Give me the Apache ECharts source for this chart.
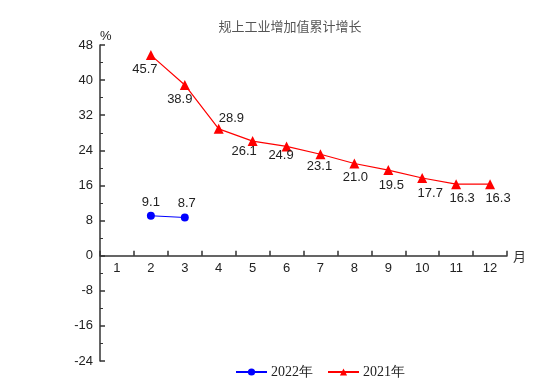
<!DOCTYPE html>
<html>
<head>
<meta charset="utf-8">
<script src="https://cdn.jsdelivr.net/npm/echarts@6/dist/echarts.min.js"></script>
<style>html,body{margin:0;padding:0;background:#fff}#c{width:554px;height:387px}</style>
</head>
<body>
<div id="c"></div>
<script>
var months = ['1','2','3','4','5','6','7','8','9','10','11','12'];
var yTicks = [-24, -16, -8, 0, 8, 16, 24, 32, 40, 48];
var series2022 = [null, 9.1, 8.7, null, null, null, null, null, null, null, null, null];
var series2021 = [null, 45.7, 38.9, 28.9, 26.1, 24.9, 23.1, 21.0, 19.5, 17.7, 16.3, 16.3];

var chart = echarts.init(document.getElementById('c'));
var axisColor = '#333';
var gridTop = 45, gridBottom = 26, H = 387;
var yMin = yTicks[0], yMax = yTicks[yTicks.length - 1];
var plotH = H - gridTop - gridBottom;
var zeroShift = plotH * (0 - yMin) / (yMax - yMin);

// label placement tweaks (styling only)
var nudge2021 = [null, [-6, 0], [-5, 0], null, [-8.5, -4], [-5.5, -5], [-1, -2], [1, -1], [3, 1], [8, 1], [6, 0], [8, 0]];
var nudge2022 = [null, [0, 0], [2, -1], null, null, null, null, null, null, null, null, null];

function fmt(p) { return Number(p.value).toFixed(1); }

var data2021 = series2021.map(function (v, i) {
  if (v === null) return v;
  if (i === 3) return { value: v, label: { position: 'right', offset: [-8, -10] } };
  return { value: v, label: { offset: nudge2021[i] } };
});
var data2022 = series2022.map(function (v, i) {
  if (v === null) return v;
  return { value: v, label: { offset: nudge2022[i] } };
});

chart.setOption({
  animation: false,
  title: {
    text: '规上工业增加值累计增长',
    left: 285, top: 15, textAlign: 'center',
    textStyle: { fontFamily: 'Noto Sans CJK SC', fontSize: 13, fontWeight: 'normal', color: '#555' }
  },
  grid: { left: 100, right: 47, top: gridTop, bottom: gridBottom, containLabel: false },
  legend: {
    bottom: 3, left: 230,
    itemWidth: 31, itemHeight: 9, itemGap: 14,
    textStyle: { fontFamily: 'Liberation Serif', fontSize: 14, color: '#222', padding: [0, 0, 0, -1] },
    data: ['2022年', '2021年']
  },
  xAxis: {
    type: 'category', data: months, boundaryGap: true,
    position: 'bottom', offset: -zeroShift,
    name: '月', nameGap: 6,
    nameTextStyle: { fontFamily: 'Noto Sans CJK SC', fontSize: 13, color: '#333', verticalAlign: 'middle' },
    axisLine: { onZero: false, lineStyle: { color: axisColor, width: 1.5 } },
    axisTick: { show: true, inside: true, length: 5, alignWithLabel: false, lineStyle: { color: axisColor, width: 1.5 } },
    axisLabel: { fontFamily: 'Liberation Sans', fontSize: 13, color: '#222', margin: 6 },
    splitLine: { show: false }
  },
  yAxis: {
    type: 'value', min: yMin, max: yMax, interval: 8,
    name: '%', nameGap: 2,
    nameTextStyle: { fontFamily: 'Liberation Sans', fontSize: 13, color: '#222', align: 'left', padding: [0, 0, 0, 0] },
    axisLine: { show: true, lineStyle: { color: axisColor, width: 1.5 } },
    axisTick: { show: true, inside: true, length: 5, lineStyle: { color: axisColor, width: 1.5 } },
    minorTick: { show: true, splitNumber: 2, length: 3, lineStyle: { color: axisColor, width: 1 } },
    axisLabel: { fontFamily: 'Liberation Sans', fontSize: 13, color: '#222', margin: 7 },
    splitLine: { show: false }
  },
  series: [
    {
      name: '2022年', type: 'line', data: data2022,
      symbol: 'circle', symbolSize: 8, connectNulls: false,
      itemStyle: { color: '#0000ff' },
      lineStyle: { color: '#0000ff', width: 1.2 },
      label: { show: true, position: 'top', distance: 3, fontFamily: 'Liberation Sans', fontSize: 13, color: '#222', formatter: fmt }
    },
    {
      name: '2021年', type: 'line', data: data2021,
      symbol: 'triangle', symbolSize: 10,
      itemStyle: { color: '#ff0000' },
      lineStyle: { color: '#ff0000', width: 1.2 },
      label: { show: true, position: 'bottom', distance: 3, fontFamily: 'Liberation Sans', fontSize: 13, color: '#222', formatter: fmt }
    }
  ]
});
</script>
</body>
</html>
